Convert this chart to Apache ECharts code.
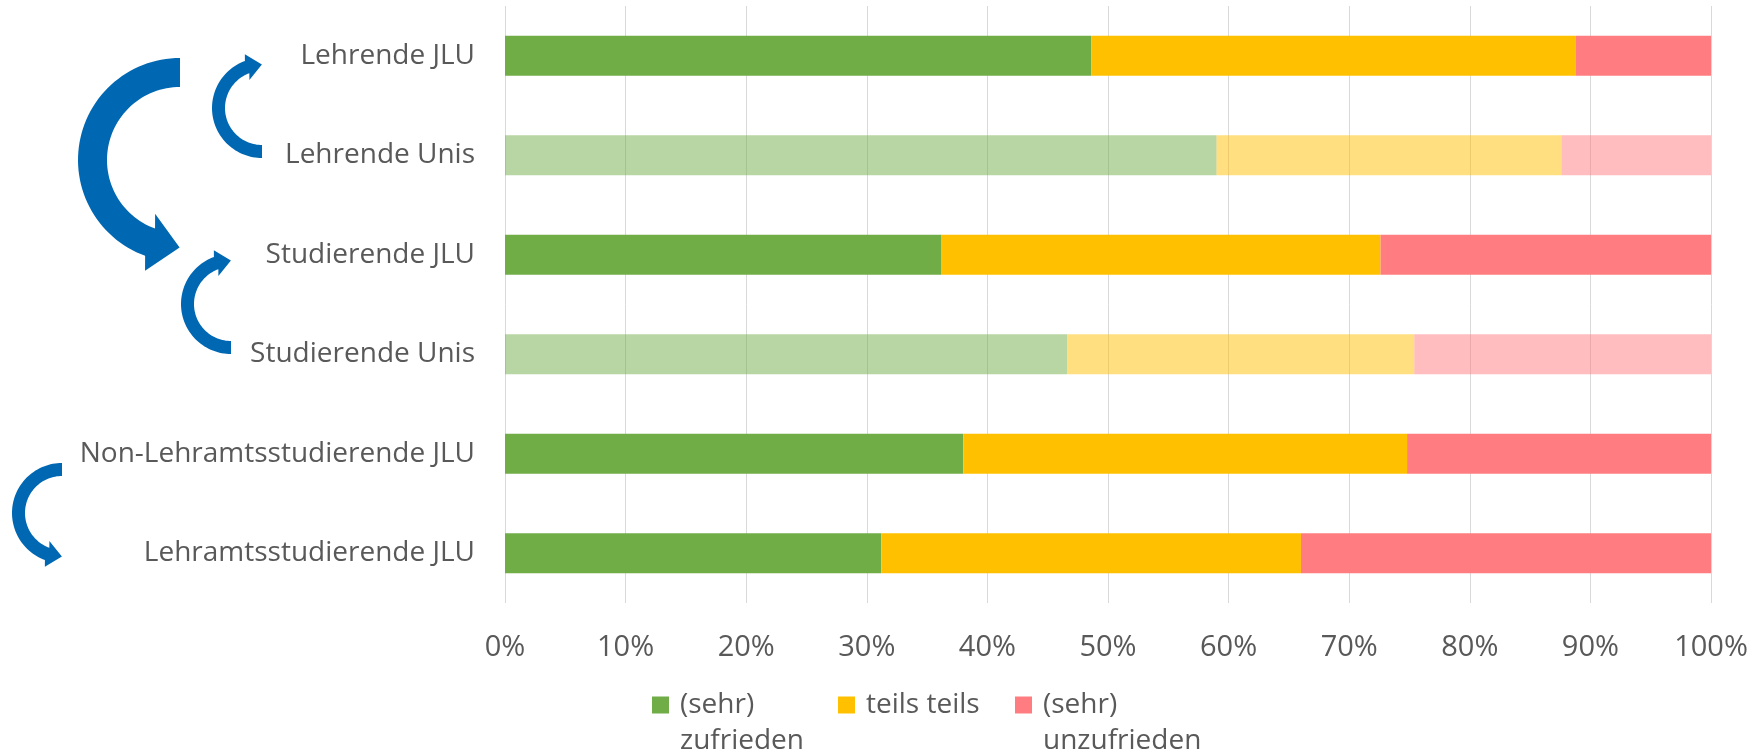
<!DOCTYPE html>
<html>
<head>
<meta charset="utf-8">
<script src="https://cdn.jsdelivr.net/npm/echarts@6/dist/echarts.min.js"></script>
<style>
html,body{margin:0;padding:0;background:#ffffff;}
#chart{width:1764px;height:755px;}
</style>
</head>
<body>
<div id="chart"></div>
<script>
// ---- data ----
const categories = [
  'Lehrende JLU',
  'Lehrende Unis',
  'Studierende JLU',
  'Studierende Unis',
  'Non-Lehramtsstudierende JLU',
  'Lehramtsstudierende JLU'
];
const seriesNames = ['(sehr) zufrieden', 'teils teils', '(sehr) unzufrieden'];
const legendLines = [['(sehr)', 'zufrieden'], ['teils teils'], ['(sehr)', 'unzufrieden']];
const zufrieden   = [48.6, 59.0, 36.2, 46.6, 38.0, 31.2];
const teilsTeils  = [40.2, 28.6, 36.4, 28.8, 36.8, 34.8];
const unzufrieden = [11.2, 12.4, 27.4, 24.6, 25.2, 34.0];
const tickValues  = [0, 10, 20, 30, 40, 50, 60, 70, 80, 90, 100];

// ---- styles ----
const FONT = 'Open Sans';
const TEXT = '#595959';
const colors = ['#70AD47', '#FFC000', '#FF7C80'];
const ARROW = '#0068B3';

const seriesValues = [zufrieden, teilsTeils, unzufrieden];

function buildData(values) {
  return values.map((v, i) => {
    const isComparison = categories[i].endsWith('Unis');
    return isComparison ? { value: v, itemStyle: { opacity: 0.5 } } : { value: v };
  });
}

// curved block arrow (decoration), head direction rotated by rot degrees from the arc tangent
function curvedArrow(cx, cy, rO, rI, a0, a1, headLen, headHalf, rot) {
  const rad = d => d * Math.PI / 180;
  const pt = (r, a) => [cx + r * Math.cos(rad(a)), cy + r * Math.sin(rad(a))];
  const n = 60;
  const pts = [];
  for (let i = 0; i <= n; i++) pts.push(pt(rO, a0 + (a1 - a0) * i / n));
  const dir = Math.sign(a1 - a0);
  const rm = (rO + rI) / 2;
  const base = pt(rm, a1);
  const tAng = Math.atan2(Math.cos(rad(a1)) * dir, -Math.sin(rad(a1)) * dir) + rad(rot);
  const t = [Math.cos(tAng), Math.sin(tAng)];
  const nr = [t[1] * dir, -t[0] * dir];
  const tip = [base[0] + t[0] * headLen, base[1] + t[1] * headLen];
  pts.push([base[0] + nr[0] * headHalf, base[1] + nr[1] * headHalf]);
  pts.push(tip);
  pts.push([base[0] - nr[0] * headHalf, base[1] - nr[1] * headHalf]);
  for (let i = n; i >= 0; i--) pts.push(pt(rI, a0 + (a1 - a0) * i / n));
  return pts;
}

const arrows = [
  curvedArrow(180, 160, 102, 73, 270, 110, 30, 29, -10),
  curvedArrow(262, 108, 50, 37, 90, 250, 15, 13, 10),
  curvedArrow(231, 304, 50, 37, 90, 250, 15, 13, 10),
  curvedArrow(62, 513, 50, 37, 270, 110, 15, 13, -10)
];

const chart = echarts.init(document.getElementById('chart'), null, { renderer: 'canvas' });

const option = {
  animation: false,
  backgroundColor: '#ffffff',
  textStyle: { fontFamily: FONT },
  grid: { left: 505, right: 53, top: 6, bottom: 152, containLabel: false },
  xAxis: {
    type: 'value',
    min: tickValues[0],
    max: tickValues[tickValues.length - 1],
    interval: tickValues[1] - tickValues[0],
    axisLine: { show: false },
    axisTick: { show: false },
    axisLabel: {
      formatter: '{value}%',
      color: TEXT,
      fontFamily: FONT,
      fontSize: 29,
      margin: 30
    },
    splitLine: { show: true, lineStyle: { color: '#D9D9D9', width: 1 } }
  },
  yAxis: {
    type: 'category',
    inverse: true,
    data: categories,
    axisLine: { show: false },
    axisTick: { show: false },
    axisLabel: {
      color: TEXT,
      fontFamily: FONT,
      fontSize: 28,
      margin: 30
    }
  },
  legend: {
    left: 652,
    top: 651,
    padding: 0,
    itemGap: 0,
    itemWidth: 17,
    itemHeight: 17,
    icon: 'rect',
    selectedMode: false,
    textStyle: {
      color: TEXT,
      fontFamily: FONT,
      fontSize: 28,
      lineHeight: 36,
      padding: [0, 0, 0, 6]
    },
    formatter: name => {
      const lines = legendLines[seriesNames.indexOf(name)];
      return lines.length > 1 ? '\n' + lines.join('\n') : lines[0];
    },
    data: [
      { name: seriesNames[0], textStyle: { width: 158 } },
      { name: seriesNames[1], textStyle: { width: 149 } },
      { name: seriesNames[2] }
    ]
  },
  graphic: arrows.map(points => ({
    type: 'polygon',
    shape: { points: points },
    style: { fill: ARROW }
  })),
  series: seriesNames.map((name, k) => ({
    name: name,
    type: 'bar',
    stack: 'total',
    barWidth: 40,
    itemStyle: { color: colors[k] },
    emphasis: { disabled: true },
    data: buildData(seriesValues[k])
  }))
};

chart.setOption(option);
</script>
</body>
</html>
